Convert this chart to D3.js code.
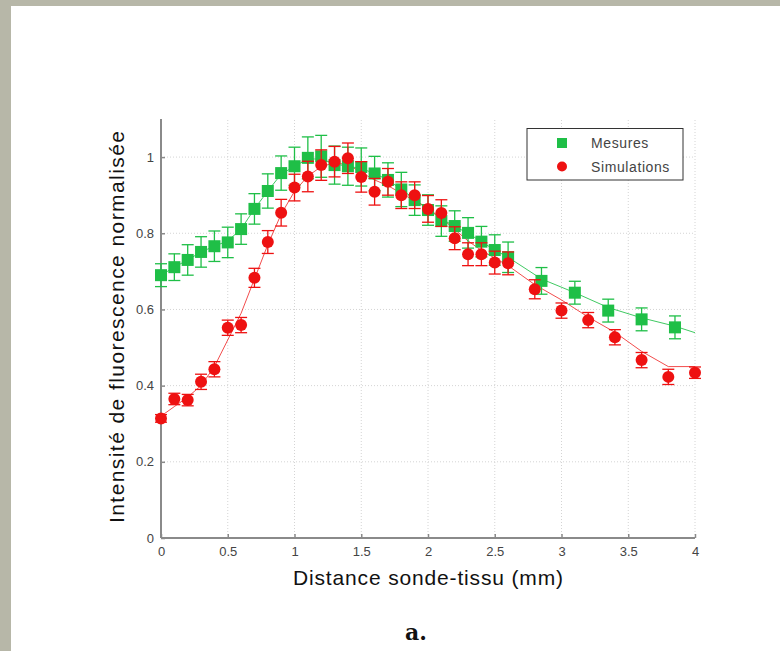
<!DOCTYPE html>
<html>
<head>
<meta charset="utf-8">
<script src="https://cdn.jsdelivr.net/npm/d3@7"></script>
<style>
  html, body { margin: 0; padding: 0; background: #b7b7a8; }
  svg { display: block; }
</style>
</head>
<body>
<svg id="chart" width="780" height="651"></svg>
<script>
// Mesures (green squares)
const mesX = [0, 0.1, 0.2, 0.3, 0.4, 0.5, 0.6, 0.7, 0.8, 0.9, 1.0, 1.1, 1.2, 1.3, 1.4, 1.5, 1.6, 1.7, 1.8, 1.9, 2.0, 2.1, 2.2, 2.3, 2.4, 2.5, 2.6, 2.85, 3.1, 3.35, 3.6, 3.85];
const mesY = [0.69, 0.711, 0.73, 0.751, 0.766, 0.776, 0.811, 0.864, 0.911, 0.958, 0.976, 0.998, 1.002, 0.979, 0.976, 0.974, 0.957, 0.94, 0.915, 0.887, 0.861, 0.832, 0.819, 0.801, 0.778, 0.756, 0.737, 0.675, 0.644, 0.597, 0.574, 0.553];
const mesErr = [0.03, 0.035, 0.04, 0.04, 0.04, 0.04, 0.04, 0.04, 0.045, 0.045, 0.05, 0.055, 0.055, 0.05, 0.05, 0.05, 0.045, 0.045, 0.045, 0.04, 0.04, 0.04, 0.04, 0.04, 0.04, 0.04, 0.04, 0.035, 0.03, 0.03, 0.03, 0.03];
// fitted curve for the mesures
const mesFitX = [0, 0.1, 0.2, 0.3, 0.4, 0.5, 0.6, 0.7, 0.8, 0.9, 1.0, 1.1, 1.2, 1.3, 1.4, 1.5, 1.6, 1.7, 1.8, 1.9, 2.0, 2.1, 2.2, 2.3, 2.4, 2.5, 2.6, 2.85, 3.1, 3.35, 3.6, 3.85, 4.0];
const mesFitY = [0.69, 0.711, 0.73, 0.751, 0.766, 0.78, 0.811, 0.864, 0.911, 0.955, 0.976, 0.995, 0.995, 0.982, 0.976, 0.97, 0.957, 0.94, 0.915, 0.89, 0.863, 0.838, 0.818, 0.8, 0.778, 0.756, 0.737, 0.68, 0.644, 0.605, 0.578, 0.556, 0.539];

// Simulations (red circles)
const simX = [0, 0.1, 0.2, 0.3, 0.4, 0.5, 0.6, 0.7, 0.8, 0.9, 1.0, 1.1, 1.2, 1.3, 1.4, 1.5, 1.6, 1.7, 1.8, 1.9, 2.0, 2.1, 2.2, 2.3, 2.4, 2.5, 2.6, 2.8, 3.0, 3.2, 3.4, 3.6, 3.8, 4.0];
const simY = [0.314, 0.365, 0.362, 0.41, 0.443, 0.552, 0.559, 0.683, 0.777, 0.854, 0.92, 0.949, 0.979, 0.988, 0.997, 0.948, 0.909, 0.935, 0.9, 0.9, 0.864, 0.853, 0.787, 0.745, 0.745, 0.723, 0.721, 0.653, 0.597, 0.572, 0.527, 0.467, 0.423, 0.434];
const simErr = [0.01, 0.015, 0.015, 0.02, 0.02, 0.02, 0.02, 0.025, 0.03, 0.035, 0.035, 0.04, 0.04, 0.04, 0.04, 0.04, 0.035, 0.035, 0.035, 0.035, 0.035, 0.035, 0.03, 0.03, 0.03, 0.03, 0.03, 0.025, 0.02, 0.02, 0.02, 0.02, 0.02, 0.015];
// fitted curve for the simulations
const simFitX = [0, 0.1, 0.2, 0.3, 0.4, 0.5, 0.6, 0.7, 0.8, 0.9, 1.0, 1.1, 1.2, 1.3, 1.4, 1.5, 1.6, 1.7, 1.8, 1.9, 2.0, 2.1, 2.2, 2.3, 2.4, 2.5, 2.6, 2.8, 3.0, 3.2, 3.4, 3.6, 3.8, 4.0];
const simFitY = [0.32, 0.345, 0.37, 0.4, 0.45, 0.52, 0.59, 0.68, 0.77, 0.85, 0.91, 0.95, 0.975, 0.985, 0.98, 0.96, 0.94, 0.925, 0.905, 0.885, 0.865, 0.84, 0.81, 0.78, 0.755, 0.735, 0.715, 0.665, 0.625, 0.58, 0.54, 0.49, 0.45, 0.45];

const xTicks = [0, 0.5, 1, 1.5, 2, 2.5, 3, 3.5, 4];
const yTicks = [0, 0.2, 0.4, 0.6, 0.8, 1];
const xTickLabels = ["0", "0.5", "1", "1.5", "2", "2.5", "3", "3.5", "4"];
const yTickLabels = ["0", "0.2", "0.4", "0.6", "0.8", "1"];
const seriesNames = ["Mesures", "Simulations"];

const greenCol = "#1fbf47";
const redCol = "#ee1111";
const sans = "'Liberation Sans', Arial, sans-serif";

const svg = d3.select("#chart");

// white sheet over the grey page
svg.append("rect")
  .attr("x", 11).attr("y", 6)
  .attr("width", 780 - 11).attr("height", 651 - 6)
  .attr("fill", "#ffffff");

const x = d3.scaleLinear().domain([0, 4]).range([161, 695]);
const y = d3.scaleLinear().domain([0, 1.1]).range([538, 119]);

// grid (dotted)
const grid = svg.append("g").attr("class", "grid");
grid.selectAll("line.v")
  .data(xTicks.slice(1))
  .enter().append("line")
  .attr("x1", d => x(d)).attr("x2", d => x(d))
  .attr("y1", y(0)).attr("y2", y(1.1))
  .attr("stroke", "#d4d4d4").attr("stroke-width", 1)
  .attr("stroke-dasharray", "1,2");
grid.selectAll("line.h")
  .data(yTicks.slice(1))
  .enter().append("line")
  .attr("x1", x(0)).attr("x2", x(4))
  .attr("y1", d => y(d)).attr("y2", d => y(d))
  .attr("stroke", "#d4d4d4").attr("stroke-width", 1)
  .attr("stroke-dasharray", "1,2");

// axes
const xAxis = svg.append("g")
  .attr("transform", "translate(0," + y(0) + ")")
  .call(d3.axisBottom(x).tickValues(xTicks).tickFormat((d, i) => xTickLabels[i])
    .tickSizeInner(-4).tickSizeOuter(0).tickPadding(9));
const yAxis = svg.append("g")
  .attr("transform", "translate(" + x(0) + ",0)")
  .call(d3.axisLeft(y).tickValues(yTicks).tickFormat((d, i) => yTickLabels[i])
    .tickSizeInner(-4).tickSizeOuter(0).tickPadding(7));

[xAxis, yAxis].forEach(a => {
  a.select(".domain").attr("stroke", "#8a8a8a").attr("stroke-width", 2);
  a.selectAll(".tick line").attr("stroke", "#8a8a8a").attr("stroke-width", 1.5);
  a.selectAll(".tick text")
    .attr("fill", "#444")
    .style("font-family", sans)
    .style("font-size", "13px");
});
// y axis line runs to the top of the plot
yAxis.select(".domain").attr("d", "M0," + y(0) + "V" + y(1.1));
xAxis.select(".domain").attr("d", "M" + x(0) + ",0H" + x(4));

// fitted lines
const line = d3.line().x(d => x(d[0])).y(d => y(d[1]));
svg.append("path")
  .datum(mesFitX.map((v, i) => [v, mesFitY[i]]))
  .attr("d", line).attr("fill", "none")
  .attr("stroke", greenCol).attr("stroke-width", 1).attr("opacity", 0.85);
svg.append("path")
  .datum(simFitX.map((v, i) => [v, simFitY[i]]))
  .attr("d", line).attr("fill", "none")
  .attr("stroke", redCol).attr("stroke-width", 1).attr("opacity", 0.75);

function errorBars(xs, ys, errs, col) {
  const g = svg.append("g").attr("stroke", col).attr("stroke-width", 1.3);
  const pts = xs.map((v, i) => ({ x: v, y: ys[i], e: errs[i] }));
  g.selectAll("line.bar").data(pts).enter().append("line")
    .attr("x1", d => x(d.x)).attr("x2", d => x(d.x))
    .attr("y1", d => y(d.y - d.e)).attr("y2", d => y(d.y + d.e));
  g.selectAll("line.top").data(pts).enter().append("line")
    .attr("x1", d => x(d.x) - 6).attr("x2", d => x(d.x) + 6)
    .attr("y1", d => y(d.y + d.e)).attr("y2", d => y(d.y + d.e));
  g.selectAll("line.bot").data(pts).enter().append("line")
    .attr("x1", d => x(d.x) - 6).attr("x2", d => x(d.x) + 6)
    .attr("y1", d => y(d.y - d.e)).attr("y2", d => y(d.y - d.e));
}

// green first, red drawn on top
errorBars(mesX, mesY, mesErr, greenCol);
svg.append("g").selectAll("rect")
  .data(mesX.map((v, i) => [v, mesY[i]]))
  .enter().append("rect")
  .attr("x", d => x(d[0]) - 6).attr("y", d => y(d[1]) - 6)
  .attr("width", 12).attr("height", 12)
  .attr("fill", greenCol);

errorBars(simX, simY, simErr, redCol);
svg.append("g").selectAll("circle")
  .data(simX.map((v, i) => [v, simY[i]]))
  .enter().append("circle")
  .attr("cx", d => x(d[0])).attr("cy", d => y(d[1]))
  .attr("r", 6)
  .attr("fill", redCol);

// legend
const legend = svg.append("g");
legend.append("rect")
  .attr("x", 527).attr("y", 128.5).attr("width", 156).attr("height", 51.5)
  .attr("fill", "#fff").attr("stroke", "#333").attr("stroke-width", 1);
legend.append("rect")
  .attr("x", 557).attr("y", 138).attr("width", 10).attr("height", 10)
  .attr("fill", greenCol);
legend.append("circle")
  .attr("cx", 562).attr("cy", 166.5).attr("r", 5)
  .attr("fill", redCol);
legend.selectAll("text")
  .data(seriesNames)
  .enter().append("text")
  .attr("x", 591).attr("y", (d, i) => 148 + i * 23.5)
  .attr("fill", "#444")
  .style("font-family", sans)
  .style("font-size", "14px")
  .style("letter-spacing", "0.6px")
  .text(d => d);

// axis titles
svg.append("text")
  .attr("x", 428).attr("y", 585)
  .attr("text-anchor", "middle")
  .attr("fill", "#111")
  .attr("textLength", 270)
  .attr("lengthAdjust", "spacing")
  .style("font-family", sans)
  .style("font-size", "21px")
  .text("Distance sonde-tissu (mm)");
svg.append("text")
  .attr("transform", "translate(124,327) rotate(-90)")
  .attr("text-anchor", "middle")
  .attr("fill", "#111")
  .attr("textLength", 392)
  .attr("lengthAdjust", "spacing")
  .style("font-family", sans)
  .style("font-size", "21px")
  .text("Intensité de fluorescence normalisée");

// panel caption
svg.append("text")
  .attr("x", 416).attr("y", 640)
  .attr("text-anchor", "middle")
  .attr("fill", "#111")
  .style("font-family", "'DejaVu Serif', 'Liberation Serif', serif")
  .style("font-weight", "bold")
  .style("font-size", "22px")
  .text("a.");
</script>
</body>
</html>
